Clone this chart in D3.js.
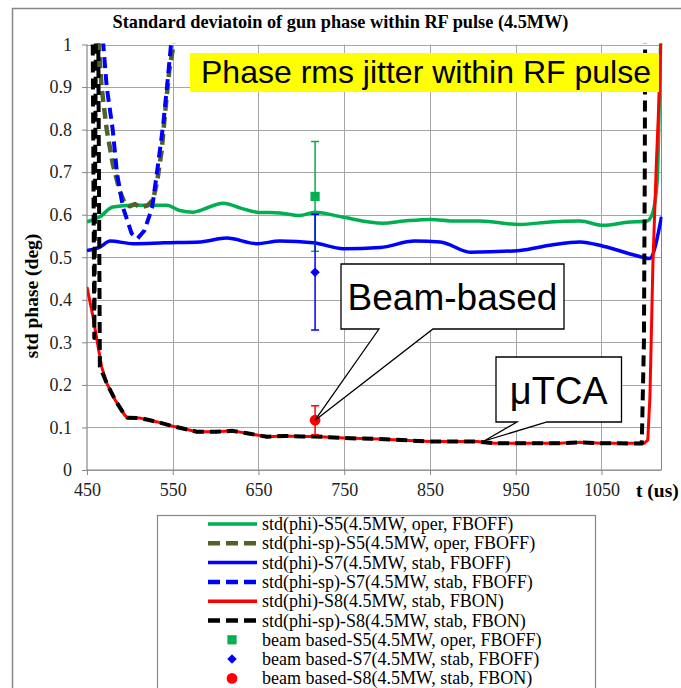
<!DOCTYPE html>
<html>
<head>
<meta charset="utf-8">
<script src="https://cdn.jsdelivr.net/npm/d3@7"></script>
<style>
  html, body { margin: 0; padding: 0; background: #fff; }
  svg { display: block; }
</style>
</head>
<body>
<svg id="chart" width="681" height="688"></svg>
<script>
// ---- data: time (us) vs. std of gun phase (deg) ----
const xTicks = [450, 550, 650, 750, 850, 950, 1050];
const yTicks = [0, 0.1, 0.2, 0.3, 0.4, 0.5, 0.6, 0.7, 0.8, 0.9, 1];

const phiS5 = [[450,0.583],[465,0.595],[480,0.618],[504,0.622],[543,0.622],[558,0.61],[574,0.606],
  [582,0.61],[609,0.627],[630,0.615],[648,0.606],[675,0.604],[698,0.598],[716,0.606],[749,0.594],
  [795,0.58],[820,0.585],[850,0.589],[880,0.585],[908,0.585],[955,0.577],[990,0.583],[1025,0.585],
  [1052,0.575],[1080,0.582],[1103,0.585],[1109,0.6],[1115,0.68],[1119,1.0],[1120,1.05]];

const phiSpS5 = [[462,1.05],[467,0.9],[473,0.8],[480,0.72],[488,0.657],[494,0.627],[500,0.62],
  [506,0.625],[512,0.617],[521,0.622],[527,0.635],[532,0.68],[537,0.75],[541,0.838],[546,0.94],
  [551,1.0],[552,1.05]];

const phiS7 = [[450,0.516],[465,0.524],[477,0.538],[504,0.532],[540,0.534],[582,0.536],[613,0.545],
  [648,0.532],[675,0.538],[714,0.534],[749,0.52],[792,0.523],[832,0.538],[862,0.536],[897,0.512],
  [955,0.516],[990,0.528],[1025,0.536],[1052,0.526],[1098,0.5],[1106,0.497],[1120,0.595]];

const phiSpS7 = [[467,1.05],[469,1.0],[473,0.9],[480,0.8],[485,0.697],[492,0.617],[502,0.556],
  [509,0.544],[517,0.563],[526,0.617],[533,0.72],[539,0.814],[544,0.915],[548,1.0],[549,1.05]];

const phiS8 = [[450,0.43],[457,0.36],[463,0.289],[467,0.243],[473,0.204],[483,0.164],[494,0.129],
  [497,0.123],[512,0.122],[532,0.113],[550,0.103],[578,0.09],[600,0.09],[620,0.092],[640,0.085],
  [660,0.078],[680,0.08],[700,0.079],[716,0.079],[750,0.075],[790,0.073],[850,0.067],[905,0.067],
  [925,0.063],[950,0.063],[1000,0.063],[1025,0.065],[1050,0.063],[1100,0.063],[1104,0.07],
  [1106.5,0.172],[1110,0.486],[1114,0.72],[1118,0.915],[1120,1.05]];

const phiSpS8 = [[456.5,1.08],[458.5,0.31],[460.5,1.08],[463,1.08],[465,0.243],[473,0.204],[483,0.164],
  [494,0.129],[497,0.123],[512,0.122],[532,0.113],[550,0.103],[578,0.09],[600,0.09],[620,0.092],
  [640,0.085],[660,0.078],[680,0.08],[700,0.079],[716,0.079],[750,0.075],[790,0.073],[850,0.067],
  [905,0.067],[925,0.063],[950,0.063],[1000,0.063],[1025,0.065],[1050,0.063],[1097,0.062],
  [1099.5,0.3],[1100.5,0.7],[1101,1.08]];

// beam-based measurements: [t, mean, error]
const beamS5 = [[716, 0.643, 0.129]];
const beamS7 = [[716, 0.465, 0.136]];
const beamS8 = [[716, 0.117, 0.034]];

const legendLabels = [
  "std(phi)-S5(4.5MW, oper, FBOFF)",
  "std(phi-sp)-S5(4.5MW, oper, FBOFF)",
  "std(phi)-S7(4.5MW, stab, FBOFF)",
  "std(phi-sp)-S7(4.5MW, stab, FBOFF)",
  "std(phi)-S8(4.5MW, stab, FBON)",
  "std(phi-sp)-S8(4.5MW, stab, FBON)",
  "beam based-S5(4.5MW, oper, FBOFF)",
  "beam based-S7(4.5MW, stab, FBOFF)",
  "beam based-S8(4.5MW, stab, FBON)"
];

// ---- layout ----
const svg = d3.select("#chart");
const plot = { left: 87, right: 661.5, top: 44.5, bottom: 470 };
const x = d3.scaleLinear().domain([450, 1120]).range([plot.left, plot.right]);
const y = d3.scaleLinear().domain([0, 1]).range([plot.bottom, plot.top]);
const serif = "'Liberation Serif', 'Times New Roman', serif";
const sans = "'Liberation Sans', Arial, sans-serif";
const gridColor = "#a6a6a6";
const axisColor = "#868686";

// chart frame
svg.append("rect").attr("x", 12.5).attr("y", 8.5).attr("width", 700).attr("height", 700)
  .attr("fill", "#fff").attr("stroke", axisColor).attr("stroke-width", 1.5);

// title
svg.append("text").attr("x", 340.5).attr("y", 28).attr("text-anchor", "middle")
  .attr("font-family", serif).attr("font-weight", "bold").attr("font-size", 18.3)
  .text("Standard deviatoin of gun phase within RF pulse (4.5MW)");

// gridlines
const grid = svg.append("g");
grid.selectAll("line.h").data(yTicks).join("line")
  .attr("x1", plot.left).attr("x2", plot.right)
  .attr("y1", d => Math.round(y(d)) + 0.5).attr("y2", d => Math.round(y(d)) + 0.5)
  .attr("stroke", gridColor).attr("stroke-width", 1);
grid.selectAll("line.v").data(xTicks.slice(1)).join("line")
  .attr("x1", d => Math.round(x(d)) + 0.5).attr("x2", d => Math.round(x(d)) + 0.5)
  .attr("y1", plot.top).attr("y2", plot.bottom)
  .attr("stroke", gridColor).attr("stroke-width", 1);
// right border of plot area
grid.append("line").attr("x1", plot.right).attr("x2", plot.right)
  .attr("y1", plot.top).attr("y2", plot.bottom).attr("stroke", axisColor);

// axes
const yAxis = d3.axisLeft(y).tickValues(yTicks).tickSize(5).tickPadding(10)
  .tickFormat(d => String(+d.toFixed(1)));
const xAxis = d3.axisBottom(x).tickValues(xTicks).tickSize(5).tickPadding(8)
  .tickFormat(d3.format("d"));
const gy = svg.append("g").attr("transform", `translate(${plot.left},0)`).call(yAxis);
const gx = svg.append("g").attr("transform", `translate(0,${plot.bottom})`).call(xAxis);
[gx, gy].forEach(g => {
  g.select(".domain").attr("stroke", axisColor).attr("stroke-width", 1.2);
  g.selectAll(".tick line").attr("stroke", axisColor);
  g.selectAll(".tick text").attr("font-family", serif).attr("font-size", 18).attr("fill", "#222");
});
gx.select(".domain").attr("d", `M${plot.left},0H${plot.right}`);
gy.select(".domain").attr("d", `M0,${plot.bottom}V${plot.top}`);

// axis titles
svg.append("text").attr("transform", "translate(38,296) rotate(-90)").attr("text-anchor", "middle")
  .attr("font-family", serif).attr("font-weight", "bold").attr("font-size", 19.5)
  .text("std phase (deg)");
svg.append("text").attr("x", 636).attr("y", 497)
  .attr("font-family", serif).attr("font-weight", "bold").attr("font-size", 19.5)
  .text("t (us)");

// clip to plot area
svg.append("defs").append("clipPath").attr("id", "plotClip")
  .append("rect").attr("x", plot.left).attr("y", plot.top - 1)
  .attr("width", plot.right - plot.left + 1).attr("height", plot.bottom - plot.top + 1);

const line = d3.line().x(d => x(d[0])).y(d => y(d[1])).curve(d3.curveMonotoneX);
const lineLin = d3.line().x(d => x(d[0])).y(d => y(d[1]));

const series = [
  { data: phiS5, color: "#00B050", width: 3.5, dash: null, gen: line },
  { data: phiSpS5, color: "#4F6228", width: 4.5, dash: "11,6", gen: lineLin },
  { data: phiS7, color: "#0000FF", width: 3.5, dash: null, gen: line },
  { data: phiSpS7, color: "#0000FF", width: 4, dash: "11,6", gen: lineLin },
  { data: phiS8, color: "#FF0000", width: 3, dash: null, gen: lineLin },
  { data: phiSpS8, color: "#000000", width: 4, dash: "11,6", gen: lineLin }
];

const lines = svg.append("g").attr("clip-path", "url(#plotClip)");
series.forEach(s => {
  lines.append("path").attr("d", s.gen(s.data)).attr("fill", "none")
    .attr("stroke", s.color).attr("stroke-width", s.width)
    .attr("stroke-dasharray", s.dash).attr("stroke-linejoin", "round");
});

// yellow banner
svg.append("rect").attr("x", 190).attr("y", 53).attr("width", 469).attr("height", 39).attr("fill", "#FFFF00");
svg.append("text").attr("x", 201).attr("y", 83).attr("font-family", sans).attr("font-size", 32)
  .attr("fill", "#000").text("Phase rms jitter within RF pulse");

// beam-based points with error bars (diamond = square turned 45 degrees)
const beams = [
  { data: beamS5, color: "#00B050", shape: d3.symbolSquare, size: 85, rot: 0 },
  { data: beamS7, color: "#0000FF", shape: d3.symbolSquare, size: 45, rot: 45 },
  { data: beamS8, color: "#FF0000", shape: d3.symbolCircle, size: 90, rot: 0 }
];
const bg = svg.append("g");
beams.forEach(b => {
  b.data.forEach(d => {
    const cx = x(d[0]), lo = y(d[1] - d[2]), hi = y(d[1] + d[2]);
    bg.append("line").attr("x1", cx).attr("x2", cx).attr("y1", lo).attr("y2", hi)
      .attr("stroke", b.color).attr("stroke-width", 1.5);
    [lo, hi].forEach(yy => bg.append("line").attr("x1", cx - 4).attr("x2", cx + 4)
      .attr("y1", yy).attr("y2", yy).attr("stroke", b.color).attr("stroke-width", 1.5));
    bg.append("path").attr("d", d3.symbol(b.shape, b.size)())
      .attr("transform", `translate(${cx},${y(d[1])}) rotate(${b.rot})`).attr("fill", b.color);
  });
});

// callouts
function callout(box, tip, base, label, fs, ty) {
  const [l, t, r, b] = box;
  const path = `M${l},${t}H${r}V${b}H${base[1]}L${tip[0]},${tip[1]}L${base[0]},${b}H${l}Z`;
  svg.append("path").attr("d", path).attr("fill", "#fff").attr("stroke", "#000").attr("stroke-width", 1.3);
  svg.append("text").attr("x", (l + r) / 2).attr("y", ty).attr("text-anchor", "middle")
    .attr("font-family", sans).attr("font-size", fs).text(label);
}
callout([341, 264, 564, 329], [x(beamS8[0][0]), y(beamS8[0][1])], [379, 433], "Beam-based", 37, 310);
callout([496, 357, 621.5, 422], [484, 441], [517, 547], "\u03BCTCA", 38, 404);

// legend
const lg = svg.append("g");
lg.append("rect").attr("x", 157.5).attr("y", 515.5).attr("width", 438).attr("height", 200)
  .attr("fill", "#fff").attr("stroke", axisColor).attr("stroke-width", 1.2);
const rowY = i => 524 + i * 19.3;
legendLabels.forEach((lab, i) => {
  const yy = rowY(i);
  if (i < 6) {
    const s = series[i];
    lg.append("line").attr("x1", 208).attr("x2", 257).attr("y1", yy).attr("y2", yy)
      .attr("stroke", s.color).attr("stroke-width", s.dash ? 4.5 : 3.5)
      .attr("stroke-dasharray", s.dash ? "12,6" : null);
  } else {
    const b = beams[i - 6];
    lg.append("path").attr("d", d3.symbol(b.shape, b.size)())
      .attr("transform", `translate(232,${yy}) rotate(${b.rot})`).attr("fill", b.color);
  }
  lg.append("text").attr("x", 262).attr("y", yy + 6).attr("font-family", serif)
    .attr("font-size", 18).attr("fill", "#000").text(lab);
});
</script>
</body>
</html>
